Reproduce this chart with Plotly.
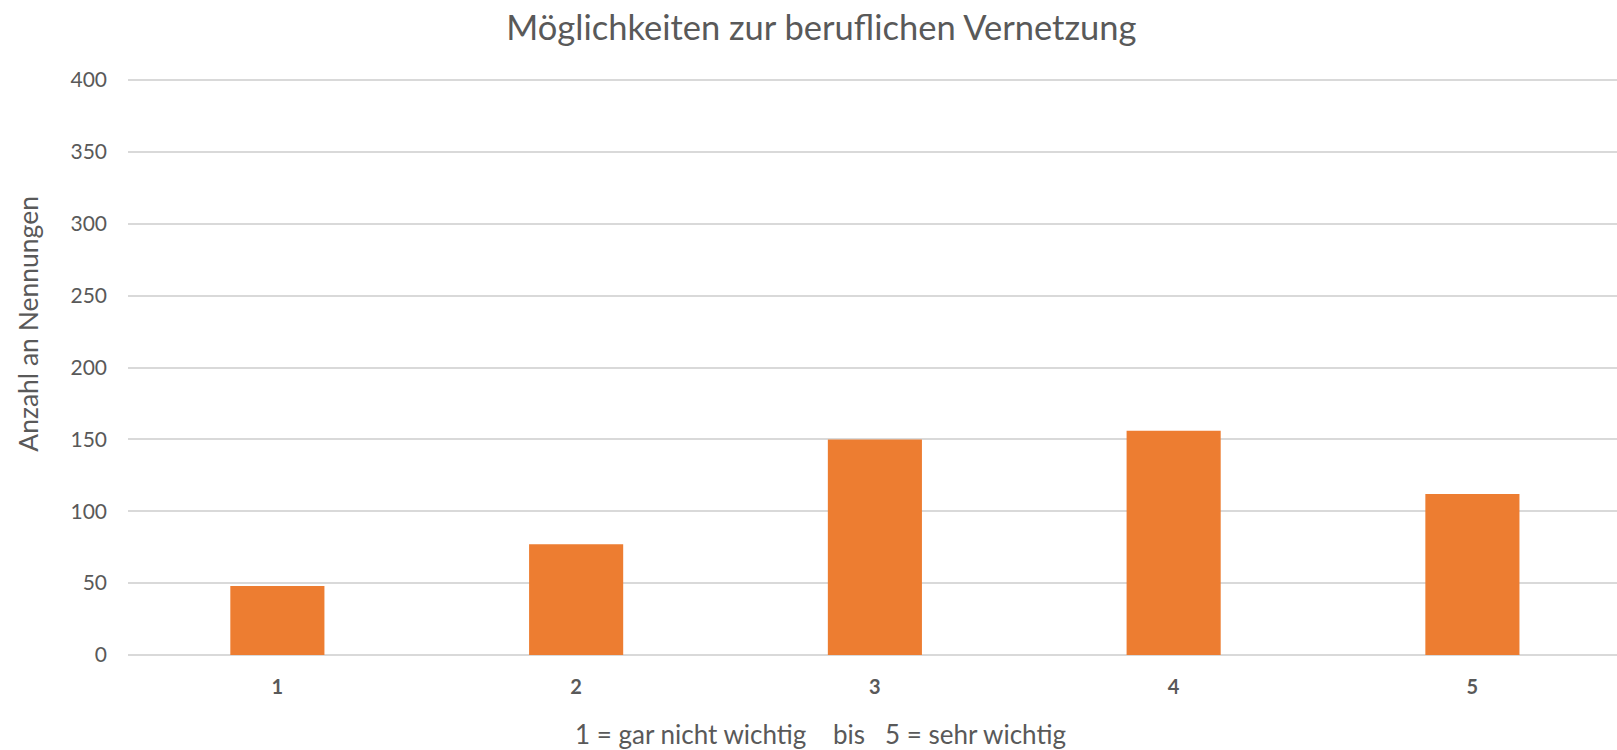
import plotly.graph_objects as go

categories = ["1", "2", "3", "4", "5"]
values = [48, 77, 150, 156, 112]
y_ticks = [0, 50, 100, 150, 200, 250, 300, 350, 400]

FONT = "Lato"
GRAY = "#595959"

fig = go.Figure(go.Bar(
    x=categories, y=values,
    marker=dict(color="#ED7D31", line=dict(width=0)),
    width=0.315,
))

fig.update_layout(
    width=1617, height=750,
    paper_bgcolor="white", plot_bgcolor="white",
    margin=dict(l=128, r=0, t=79, b=95),
    title=dict(text="Möglichkeiten zur beruflichen Vernetzung", x=0.508, xanchor="center",
               y=0.9627, yanchor="middle", font=dict(family=FONT, size=34.5, color=GRAY)),
    font=dict(family=FONT, color=GRAY),
    showlegend=False,
    annotations=[
        dict(text="Anzahl an Nennungen", xref="paper", yref="paper",
             x=-0.0672, y=0.575, xanchor="center", yanchor="middle", textangle=-90,
             showarrow=False, font=dict(family=FONT, size=26.5, color=GRAY)),
        dict(text="1 = gar nicht wichtig &nbsp;&nbsp; bis &nbsp; 5 = sehr wichtig",
             xref="paper", yref="paper", x=0.4654, y=-0.1375,
             xanchor="center", yanchor="middle", showarrow=False,
             font=dict(family=FONT, size=26, color=GRAY)),
    ],
)
fig.update_xaxes(
    type="category", range=[-0.5, 4.484], automargin=False,
    tickfont=dict(family=FONT, size=20, color=GRAY, weight="bold"),
    ticks="", ticklabelstandoff=18, showgrid=False, showline=False,
)
fig.update_yaxes(
    range=[0, 400.7], tickvals=y_ticks, automargin=False,
    tickfont=dict(family=FONT, size=21, color=GRAY),
    showgrid=True, gridcolor="#D9D9D9", gridwidth=1.5,
    zeroline=True, zerolinecolor="#D9D9D9", zerolinewidth=1.5,
    ticks="", ticklabelstandoff=20,
)

fig.write_html("out.html", config={"displayModeBar": False},
               post_script="document.body.style.margin='0';document.body.style.overflow='hidden';")
